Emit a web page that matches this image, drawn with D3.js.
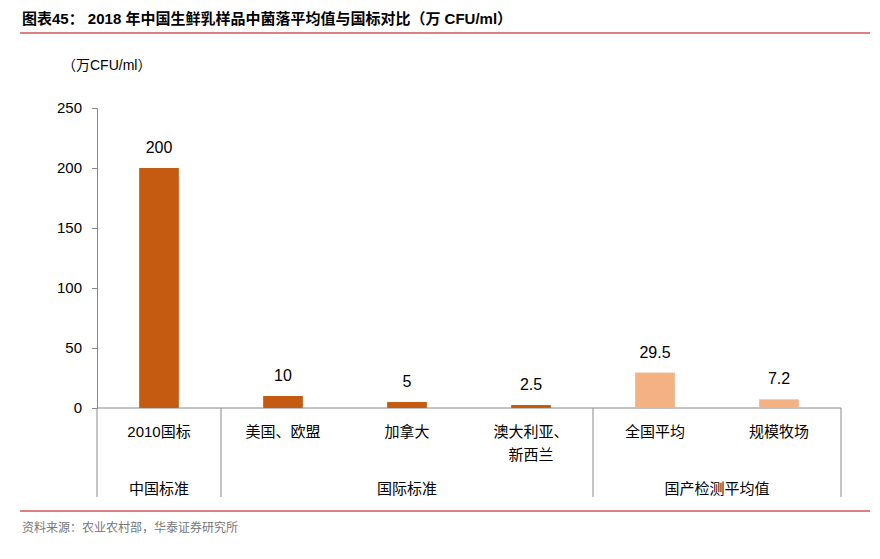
<!DOCTYPE html>
<html><head><meta charset="utf-8">
<script src="https://cdn.jsdelivr.net/npm/d3@7/dist/d3.min.js"></script>
<style>body{margin:0;background:#fff}text{font-family:"Liberation Sans","Noto Sans CJK SC",sans-serif}</style>
</head><body><div id="chart"></div>
<script>
var categories = ["2010国标", "美国、欧盟", "加拿大", "澳大利亚、\n新西兰", "全国平均", "规模牧场"];
var values = [200, 10, 5, 2.5, 29.5, 7.2];
var valueLabels = ["200", "10", "5", "2.5", "29.5", "7.2"];
var groups = [{name: "中国标准", from: 0, to: 0}, {name: "国际标准", from: 1, to: 3}, {name: "国产检测平均值", from: 4, to: 5}];
var yTicks = [0, 50, 100, 150, 200, 250];

var w = 880, h = 559;
var svg = d3.select("#chart").append("svg").attr("width", w).attr("height", h);

svg.append("text").attr("x", 22).attr("y", 24).attr("font-size", 15).attr("font-weight", "bold")
  .text("图表45：  2018 年中国生鲜乳样品中菌落平均值与国标对比（万 CFU/ml）");
svg.append("line").attr("x1", 20).attr("x2", 870).attr("y1", 33).attr("y2", 33).attr("stroke", "#C00000").attr("stroke-width", 1.2);

var x = d3.scaleBand().domain(d3.range(categories.length)).range([97, 841]).paddingInner(0.68).paddingOuter(0.34);
var y = d3.scaleLinear().domain([0, 250]).range([408, 108]);

svg.append("text").attr("x", 62).attr("y", 70).attr("font-size", 14).text("（万CFU/ml）");

var ya = svg.append("g").attr("transform", "translate(97,0)")
  .call(d3.axisLeft(y).tickValues(yTicks).tickSize(5).tickPadding(10));
ya.selectAll("text").attr("font-size", 15).attr("fill", "#000");
ya.selectAll("line,path").attr("stroke", "#888");

svg.append("line").attr("x1", 97).attr("x2", 841).attr("y1", 408).attr("y2", 408).attr("stroke", "#888");

svg.selectAll("rect.bar").data(values).enter().append("rect")
  .attr("x", function (d, i) { return x(i); })
  .attr("width", x.bandwidth())
  .attr("y", function (d) { return y(d); })
  .attr("height", function (d) { return 408 - y(d); })
  .attr("fill", function (d, i) { return i >= 4 ? "#F4B183" : "#C55A11"; });

svg.selectAll("text.val").data(values).enter().append("text")
  .attr("x", function (d, i) { return x(i) + x.bandwidth() / 2; })
  .attr("y", function (d) { return y(d) - 15; })
  .attr("text-anchor", "middle").attr("font-size", 16)
  .text(function (d, i) { return valueLabels[i]; });

var step = x.step();
categories.forEach(function (c, i) {
  var cx = x(i) + x.bandwidth() / 2;
  c.split("\n").forEach(function (line, j) {
    svg.append("text").attr("x", cx).attr("y", 437 + j * 23).attr("text-anchor", "middle")
      .attr("font-size", 15).text(line);
  });
});

var x0 = x(0) - x.paddingOuter() * step;
var edges = [x0];
groups.forEach(function (g) { edges.push(x0 + (g.to + 1) * step); });
edges.forEach(function (e) {
  svg.append("line").attr("x1", e).attr("x2", e).attr("y1", 408).attr("y2", 497).attr("stroke", "#888");
});
groups.forEach(function (g) {
  var cx = x0 + (g.from + (g.to + 1)) / 2 * step;
  svg.append("text").attr("x", cx).attr("y", 494).attr("text-anchor", "middle").attr("font-size", 15).text(g.name);
});

svg.append("line").attr("x1", 20).attr("x2", 870).attr("y1", 511).attr("y2", 511).attr("stroke", "#C00000").attr("stroke-width", 1.2);
svg.append("text").attr("x", 22).attr("y", 532).attr("font-size", 12).attr("fill", "#777")
  .text("资料来源：农业农村部，华泰证券研究所");
</script></body></html>
